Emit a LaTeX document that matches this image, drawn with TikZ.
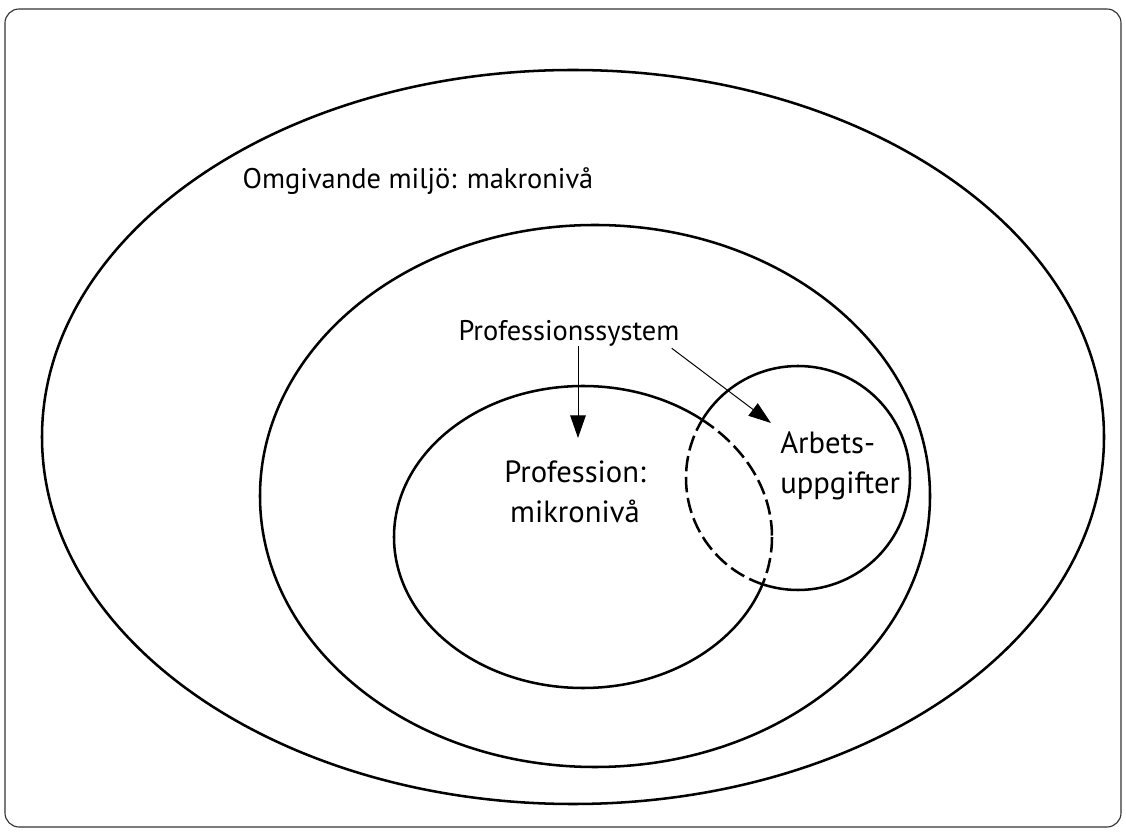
\documentclass[tikz,border=0pt]{standalone}
\usepackage{fontspec}
\setmainfont{PT Sans}
\usetikzlibrary{arrows.meta,positioning,calc}

\begin{document}
\begin{tikzpicture}[x=0.025cm,y=-0.025cm,
   ring/.style={draw=black,line width=1.8pt},
   lensline/.style={ring,dash pattern=on 11pt off 4pt},
   lbl/.style={inner sep=0pt,align=center,font=\fontsize{20.2}{24}\selectfont},
   biglbl/.style={inner sep=0pt,align=center,font=\fontsize{21.8}{28}\selectfont},
   pil/.style={line width=0.7pt,-{Triangle[length=16pt,width=11pt]}}]
 \useasboundingbox (0,0) rectangle (1126,832);
 \draw[black!80,line width=0.8pt,rounded corners=10pt] (5,9) rectangle (1121,827);
 \coordinate (pc) at (583,537);
 \coordinate (ac) at (798,478);
 \draw[ring] (573,437) ellipse [x radius=531,y radius=367];
 \draw[ring] (595,496) ellipse [x radius=335,y radius=271];
 \begin{scope}[even odd rule]
   \clip (0,0) rectangle (1126,832) (ac) circle [radius=112];
   \draw[ring] (pc) ellipse [x radius=189,y radius=151];
 \end{scope}
 \begin{scope}[even odd rule]
   \clip (0,0) rectangle (1126,832) (pc) ellipse [x radius=189,y radius=151];
   \draw[ring] (ac) circle [radius=112];
 \end{scope}
 \begin{scope}
   \clip (ac) circle [radius=112];
   \draw[lensline] (pc) ellipse [x radius=189,y radius=151];
 \end{scope}
 \begin{scope}
   \clip (pc) ellipse [x radius=189,y radius=151];
   \draw[lensline] (ac) circle [radius=112];
 \end{scope}
 \node[lbl] (makro) at (418,181) {Omgivande miljö: makronivå};
 \node[lbl] (system) at (569,333) {Professionssystem};
 \node[biglbl] (prof) at (575,492) {Profession:\\mikronivå};
 \node[biglbl,align=left,anchor=west] (arb) at (780,466) {Arbets-\\uppgifter};
 \coordinate (profin) at (578,438);
 \coordinate (arbin) at (771,423);
 \draw[pil] (system.south -| profin) -- (profin);
 \draw[pil] ($(system.south east)+(-8,2)$) -- (arbin);
\end{tikzpicture}
\end{document}
